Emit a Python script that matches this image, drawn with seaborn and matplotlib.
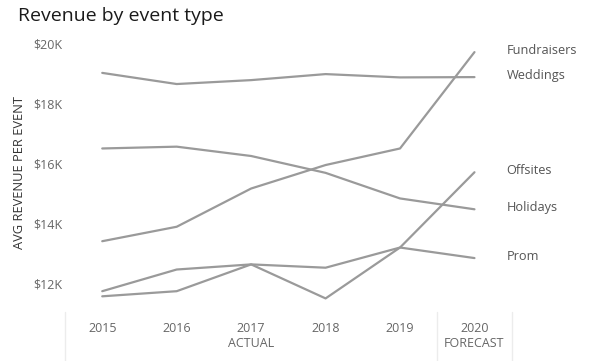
import pandas as pd
import matplotlib.pyplot as plt
import matplotlib.transforms as mtransforms
import seaborn as sns

# Data (values in $K)
years = [2015, 2016, 2017, 2018, 2019, 2020]
fundraisers = [13.42, 13.90, 15.17, 15.95, 16.50, 19.70]
weddings = [19.01, 18.64, 18.77, 18.97, 18.86, 18.87]
offsites = [11.59, 11.76, 12.65, 11.52, 13.21, 15.71]
holidays = [16.50, 16.56, 16.25, 15.69, 14.84, 14.48]
prom = [11.76, 12.48, 12.65, 12.54, 13.21, 12.86]
y_ticks = [12, 14, 16, 18, 20]
y_tick_labels = ["$12K", "$14K", "$16K", "$18K", "$20K"]

series = {
    "Fundraisers": fundraisers,
    "Weddings": weddings,
    "Offsites": offsites,
    "Holidays": holidays,
    "Prom": prom,
}

# Long-form frame for seaborn
df = pd.concat(
    [pd.DataFrame({"Year": years, "Revenue": vals, "Event": name}) for name, vals in series.items()],
    ignore_index=True,
)

sns.set_theme(style="white")
plt.rcParams["font.family"] = ["Open Sans", "DejaVu Sans"]

fig = plt.figure(figsize=(6.02, 3.61), dpi=100)
ax = fig.add_axes([0.108, 0.155, 0.742, 0.734])

line_grey = "#9a9a9a"
sns.lineplot(
    data=df, x="Year", y="Revenue", hue="Event",
    palette={name: line_grey for name in series}, linewidth=1.6,
    legend=False, ax=ax,
)

ax.set_xlim(2014.5, 2020.5)
ax.set_ylim(11.3, 20.1)
ax.set_xticks(years)
ax.set_xticklabels([str(y) for y in years])
ax.set_yticks(y_ticks)
ax.set_yticklabels(y_tick_labels)
ax.tick_params(axis="both", length=0, labelsize=9, labelcolor="#666666")
ax.tick_params(axis="x", pad=12)
ax.tick_params(axis="y", pad=2)
for s in ax.spines.values():
    s.set_visible(False)

ax.set_xlabel("")
ax.set_ylabel("AVG REVENUE PER EVENT", fontsize=9.3, color="#333333", labelpad=5)

# Direct labels at line ends
for name, vals in series.items():
    ax.annotate(name, xy=(years[-1], vals[-1]), xytext=(32, 2),
                textcoords="offset pixels", ha="left", va="center",
                fontsize=9.2, color="#555555")

# Group labels and separators under the x axis
trans = mtransforms.blended_transform_factory(ax.transData, ax.transAxes)
for xs in (2014.5, 2019.5, 2020.5):
    ax.plot([xs, xs], [-0.025, -0.22], transform=trans, color="#ececec",
            linewidth=1, clip_on=False)
ax.text(2017, -0.145, "ACTUAL", transform=trans, ha="center", va="center",
        fontsize=9, color="#666666")
ax.text(2020, -0.145, "FORECAST", transform=trans, ha="center", va="center",
        fontsize=9, color="#666666")

fig.text(0.03, 0.955, "Revenue by event type", fontsize=14, color="#1a1a1a",
         ha="left", va="center", fontweight="medium")

fig.savefig("out.png", dpi=100)
